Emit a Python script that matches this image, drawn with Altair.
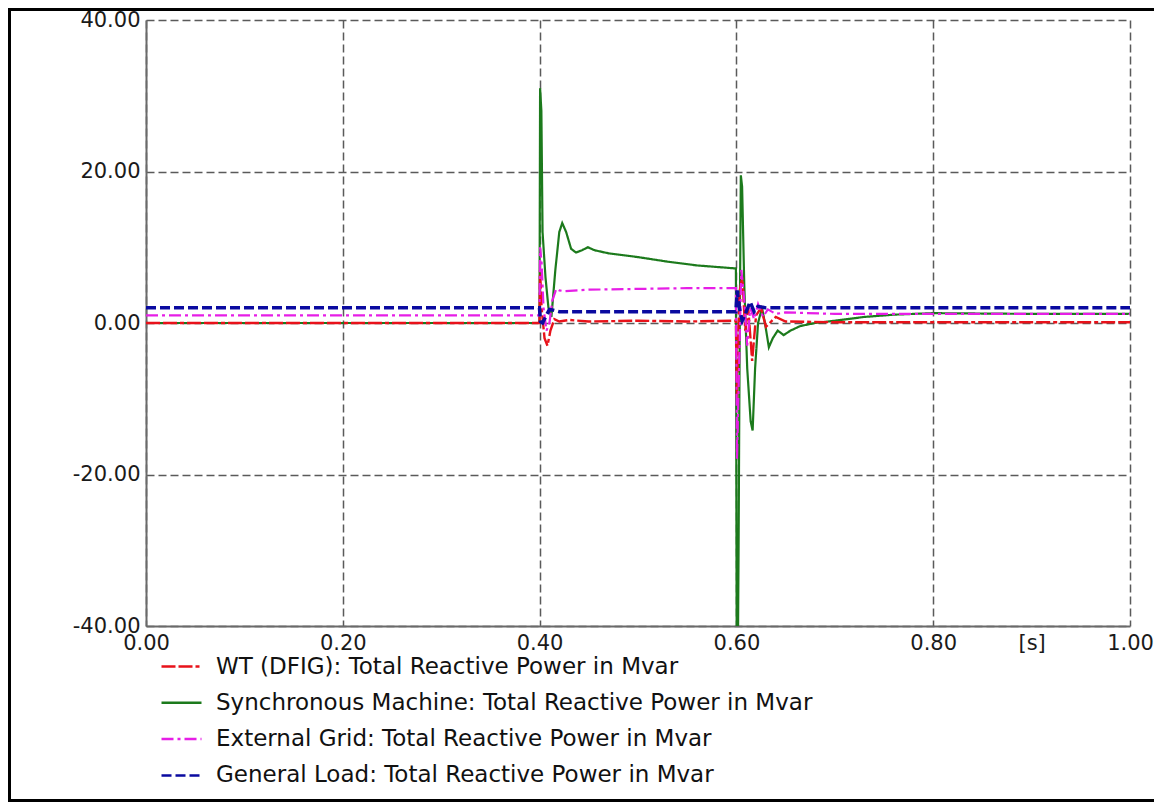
import altair as alt
import pandas as pd

# ---------------- data ----------------
series_names = [
    "WT (DFIG): Total Reactive Power in Mvar",
    "Synchronous Machine: Total Reactive Power in Mvar",
    "External Grid: Total Reactive Power in Mvar",
    "General Load: Total Reactive Power in Mvar",
]

wt_t = [0.0, 0.3999, 0.4005, 0.402, 0.405, 0.408, 0.411, 0.415, 0.42, 0.43, 0.45, 0.5,
        0.55, 0.5995, 0.6006, 0.603, 0.606, 0.609, 0.612, 0.616, 0.62, 0.625, 0.63,
        0.64, 0.65, 0.7, 0.8, 1.0]
wt_v = [0.0, 0.0, 7.0, 2.0, -2.0, -3.0, -1.0, 0.5, 0.2, 0.4, 0.2, 0.3,
        0.2, 0.3, -10.0, 4.0, 6.0, -1.0, 2.0, -5.0, 1.0, 2.0, -0.5,
        0.8, 0.2, 0.1, 0.1, 0.1]

sm_t = [0.0, 0.3999, 0.4005, 0.4018, 0.403, 0.406, 0.409, 0.412, 0.416, 0.42, 0.423,
        0.427, 0.432, 0.437, 0.443, 0.449, 0.456, 0.47, 0.5, 0.53, 0.56, 0.5995,
        0.6004, 0.6013, 0.6022, 0.6032, 0.6045, 0.6058, 0.608, 0.611, 0.6145, 0.6165,
        0.619, 0.622, 0.626, 0.629, 0.633, 0.637, 0.642, 0.648, 0.655, 0.665, 0.68,
        0.7, 0.73, 0.76, 0.8, 0.9, 1.0]
sm_v = [0.0, 0.0, 31.0, 28.0, 12.0, 6.0, 2.0, 0.8, 7.0, 12.0, 13.2,
        12.0, 9.8, 9.3, 9.6, 10.0, 9.6, 9.2, 8.7, 8.1, 7.6, 7.2,
        -48.0, -48.0, -30.0, -5.0, 19.5, 18.0, 5.0, -6.0, -13.0, -14.2,
        -6.0, 0.0, 2.0, 0.0, -3.2, -2.0, -1.0, -1.6, -1.0, -0.4, 0.0,
        0.3, 0.8, 1.1, 1.3, 1.2, 1.2]

eg_t = [0.0, 0.3999, 0.4005, 0.402, 0.404, 0.407, 0.41, 0.413, 0.417, 0.42, 0.425,
        0.45, 0.5, 0.55, 0.5995, 0.6006, 0.602, 0.605, 0.608, 0.611, 0.614, 0.618,
        0.622, 0.627, 0.632, 0.64, 0.65, 0.7, 1.0]
eg_v = [1.0, 1.0, 10.0, 8.0, 2.0, -1.0, 0.0, 3.0, 4.5, 4.3, 4.2,
        4.4, 4.5, 4.6, 4.6, -18.0, -10.0, 7.0, 3.0, -3.0, 2.0, 0.5,
        2.5, 0.8, 1.8, 1.2, 1.4, 1.2, 1.2]

gl_t = [0.0, 0.3999, 0.4008, 0.403, 0.406, 0.41, 0.414, 0.42, 0.5995, 0.6008, 0.603,
        0.606, 0.61, 0.614, 0.618, 0.622, 0.63, 1.0]
gl_v = [2.0, 2.0, 0.2, 0.0, 0.8, 1.8, 1.7, 1.5, 1.5, 4.3, 2.0,
        0.3, 1.5, 2.8, 1.5, 2.2, 2.0, 2.0]

series_t = [wt_t, sm_t, eg_t, gl_t]
series_v = [wt_v, sm_v, eg_v, gl_v]

series_colors = ["#e8121a", "#1c7a1c", "#e61ee6", "#0a0aa0"]
series_dash = [[14, 3, 14, 3, 4, 3], [1, 0], [12, 4, 3, 4], [10, 4]]
series_width = [2.4, 2.2, 2.2, 3.5]
draw_order = [1, 0, 2, 3]   # synchronous machine drawn first (under the others)

x_ticks = [0.0, 0.2, 0.4, 0.6, 0.8, 0.9, 1.0]
y_ticks = [-40, -20, 0, 20, 40]

rows = []
for name, ts, vs in zip(series_names, series_t, series_v):
    for i, (t, v) in enumerate(zip(ts, vs)):
        rows.append({"series": name, "t": t, "v": v, "i": i})
df = pd.DataFrame(rows)

FONT = "DejaVu Sans"
GRID = "#5a5a5a"

legend = alt.Legend(
    title=None, orient="none", legendX=14, legendY=625,
    symbolType="stroke", symbolSize=1600, symbolStrokeWidth=2.5,
    labelFont=FONT, labelFontSize=23, labelColor="#111111", labelOffset=13,
    labelLimit=0, rowPadding=2.3, padding=0,
)

x_enc = alt.X("t:Q", scale=alt.Scale(domain=[0, 1], nice=False, zero=False),
              axis=alt.Axis(values=x_ticks, title=None,
                            labelExpr="datum.value == 0.9 ? '[s]' : format(datum.value, '.2f')",
                            grid=True, gridDash=[8, 4], gridColor=GRID, gridWidth=1.5,
                            gridOpacity={"condition": {"test": "datum.value == 0.9", "value": 0}, "value": 1},
                            ticks=False, domainColor="#6a6a6a", domainWidth=2,
                            labelFont=FONT, labelFontSize=21, labelColor="#1a1a1a",
                            labelPadding=6, labelFlush=False, labelOverlap=False))
y_enc = alt.Y("v:Q", scale=alt.Scale(domain=[-40, 40], nice=False, zero=False),
              axis=alt.Axis(values=y_ticks, title=None,
                            labelExpr="replace(format(datum.value, '.2f'), '\u2212', '-')",
                            grid=True, gridDash=[8, 4], gridColor=GRID, gridWidth=1.5,
                            ticks=False, domainColor="#6a6a6a", domainWidth=2,
                            labelFont=FONT, labelFontSize=21, labelColor="#1a1a1a",
                            labelPadding=6, labelOverlap=False))
color_enc = alt.Color("series:N", sort=series_names,
                      scale=alt.Scale(domain=series_names, range=series_colors),
                      legend=legend)
dash_enc = alt.StrokeDash("series:N", sort=series_names,
                          scale=alt.Scale(domain=series_names, range=series_dash),
                          legend=legend)

layers = []
for k in draw_order:
    name = series_names[k]
    layers.append(
        alt.Chart(df).transform_filter(alt.datum.series == name)
        .mark_line(clip=True, strokeWidth=series_width[k])
        .encode(x=x_enc, y=y_enc, color=color_enc, strokeDash=dash_enc, order="i:Q")
    )

frame = alt.Chart(pd.DataFrame({"k": [0]})).mark_rect(
    filled=False, stroke="black", strokeWidth=3, clip=False
).encode(
    x=alt.value(-136.5), x2=alt.value(1009.5),
    y=alt.value(-10.5), y2=alt.value(780.5),
)

chart = alt.layer(*layers, frame).properties(
    width=984, height=606,
    autosize=alt.AutoSizeParams(type="none"),
    padding={"left": 138, "top": 12, "right": 24, "bottom": 176},
    background="white",
).configure_view(stroke=None)

chart.save("out.html", embed_options={"renderer": "svg", "actions": False})
